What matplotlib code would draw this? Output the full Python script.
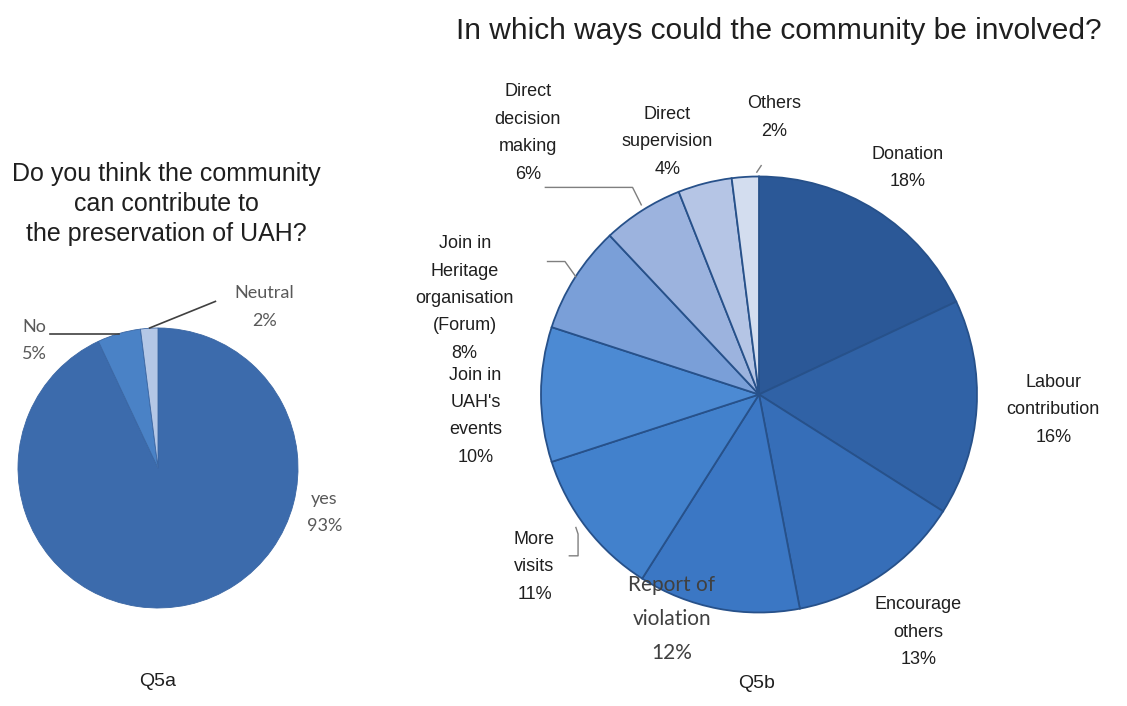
import matplotlib.pyplot as plt

# Q5a data
q5a_labels = ["yes", "No", "Neutral"]
q5a_values = [93, 5, 2]
q5a_colors = ["#3c6bac", "#4a82c6", "#b4c7e6"]

# Q5b data
q5b_labels = [
    "Donation", "Labour\ncontribution", "Encourage\nothers", "Report of\nviolation",
    "More\nvisits", "Join in\nUAH's\nevents", "Join in\nHeritage\norganisation\n(Forum)",
    "Direct\ndecision\nmaking", "Direct\nsupervision", "Others",
]
q5b_values = [18, 16, 13, 12, 11, 10, 8, 6, 4, 2]
q5b_colors = ["#2b5897", "#3062a6", "#366eb8", "#3b77c4", "#4281cc",
              "#4c8ad3", "#7a9fd8", "#9cb3de", "#b5c5e5", "#d3ddef"]

# label placement in pie-radius units (layout only)
q5a_label_pos = [(1.19, -0.32), (-0.88, 0.91), (0.76, 1.15)]
q5b_label_pos = [(0.68, 1.04), (1.35, -0.07), (0.73, -1.09), (-0.40, -1.03),
                 (-1.03, -0.79), (-1.30, -0.10), (-1.35, 0.44), (-1.06, 1.20),
                 (-0.42, 1.16), (0.07, 1.27)]

W, H = 1127, 706
fig = plt.figure(figsize=(W / 100, H / 100), dpi=100)
fig.patch.set_facecolor("white")

SANS = "Liberation Sans"
TXT = "#1f1f1f"


def axes_at(cx, cy, r):
    return fig.add_axes([(cx - r) / W, (H - cy - r) / H, 2 * r / W, 2 * r / H])


# ---- left pie ----
ax1 = axes_at(158, 468, 140)
ax1.pie(q5a_values, colors=q5a_colors, startangle=90, counterclock=False,
        radius=1, wedgeprops=dict(edgecolor="#3a66a3", linewidth=0.6))
ax1.set_xlim(-1, 1)
ax1.set_ylim(-1, 1)
for lab, val, (x, y) in zip(q5a_labels, q5a_values, q5a_label_pos):
    ax1.text(x, y, f"{lab}\n{val}%", ha="center", va="center", fontsize=13,
             family="Lato", color="#595959", linespacing=1.85, clip_on=False)
# leader lines
ax1.plot([-0.77, -0.28], [0.96, 0.96], color="#404040", lw=1.2, clip_on=False)
ax1.plot([-0.06, 0.41], [1.0, 1.19], color="#404040", lw=1.2, clip_on=False)

fig.text(166 / W, 1 - 204 / H,
         "Do you think the community\ncan contribute to\nthe preservation of UAH?",
         ha="center", va="center", fontsize=18, family=SANS, color=TXT,
         linespacing=1.33)
fig.text(158 / W, 1 - 682 / H, "Q5a", ha="center", va="center", fontsize=14,
         family=SANS, color=TXT)

# ---- right pie ----
ax2 = axes_at(759, 394.5, 218)
ax2.pie(q5b_values, colors=q5b_colors, startangle=90, counterclock=False,
        radius=1, wedgeprops=dict(edgecolor="#27518a", linewidth=1.3))
ax2.set_xlim(-1, 1)
ax2.set_ylim(-1, 1)
for lab, val, (x, y) in zip(q5b_labels, q5b_values, q5b_label_pos):
    if lab.startswith("Report"):
        ax2.text(x, y, f"{lab}\n{val}%", ha="center", va="center", fontsize=15,
                 family="Lato", color="#404040", linespacing=1.9, clip_on=False)
    else:
        ax2.text(x, y, f"{lab}\n{val}%", ha="center", va="center", fontsize=13,
                 family=SANS, color=TXT, linespacing=1.8, clip_on=False)
# leader lines
lc = "#7f7f7f"
ax2.plot([-0.98, -0.58, -0.54], [0.95, 0.95, 0.87], color=lc, lw=1, clip_on=False)
ax2.plot([-0.97, -0.89, -0.84], [0.61, 0.61, 0.54], color=lc, lw=1, clip_on=False)
ax2.plot([-0.84, -0.83, -0.83, -0.87], [-0.61, -0.64, -0.74, -0.74],
         color=lc, lw=1, clip_on=False)
ax2.plot([-0.01, 0.01], [1.02, 1.05], color=lc, lw=1, clip_on=False)

fig.text(779 / W, 1 - 31 / H, "In which ways could the community be involved?",
         ha="center", va="center", fontsize=21.5, family=SANS, color=TXT)
fig.text(757 / W, 1 - 683 / H, "Q5b", ha="center", va="center", fontsize=14,
         family=SANS, color=TXT)

fig.savefig("out.png", dpi=100)
